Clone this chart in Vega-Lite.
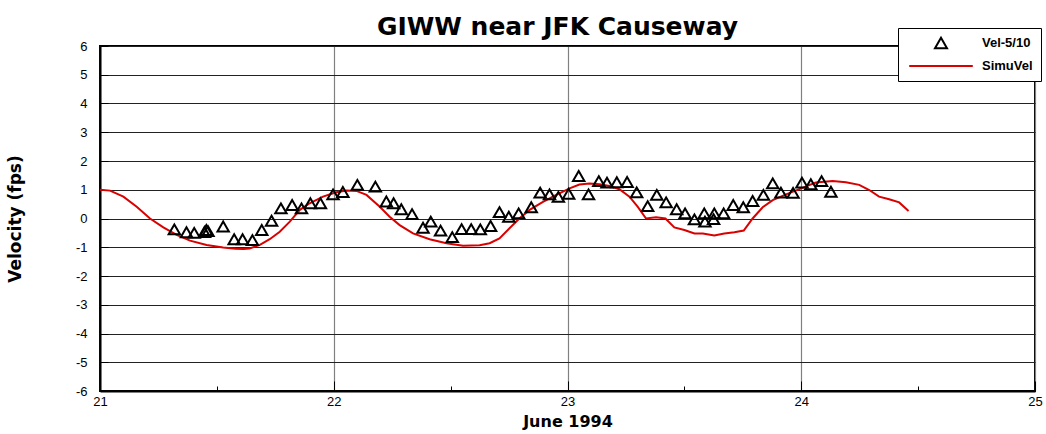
{
  "$schema": "https://vega.github.io/schema/vega-lite/v6.json",
  "width": 935,
  "height": 345,
  "autosize": "none",
  "padding": {"left": 100, "top": 46, "right": 11, "bottom": 43},
  "background": "white",
  "title": {"text": "GIWW near JFK Causeway", "fontSize": 25, "fontWeight": "bold", "font": "DejaVu Sans", "anchor": "middle", "dx": -10, "offset": -32, "baseline": "alphabetic", "color": "black"},
  "config": {
    "font": "Liberation Sans",
    "view": {"stroke": "black", "strokeWidth": 2},
    "axis": {"labelFont": "Liberation Sans", "labelFontSize": 13, "labelColor": "black", "titleFont": "DejaVu Sans", "titleFontSize": 16, "titleFontWeight": "bold", "titleColor": "black", "domainColor": "black", "domainWidth": 2, "tickColor": "black", "labelFlush": false}
  },
  "data": {"values": [
    {"t": 21.318, "v": -0.38, "series": "Vel-5/10"},
    {"t": 21.370, "v": -0.48, "series": "Vel-5/10"},
    {"t": 21.403, "v": -0.50, "series": "Vel-5/10"},
    {"t": 21.447, "v": -0.47, "series": "Vel-5/10"},
    {"t": 21.455, "v": -0.40, "series": "Vel-5/10"},
    {"t": 21.462, "v": -0.44, "series": "Vel-5/10"},
    {"t": 21.527, "v": -0.28, "series": "Vel-5/10"},
    {"t": 21.574, "v": -0.72, "series": "Vel-5/10"},
    {"t": 21.610, "v": -0.72, "series": "Vel-5/10"},
    {"t": 21.652, "v": -0.75, "series": "Vel-5/10"},
    {"t": 21.692, "v": -0.40, "series": "Vel-5/10"},
    {"t": 21.734, "v": -0.08, "series": "Vel-5/10"},
    {"t": 21.774, "v": 0.35, "series": "Vel-5/10"},
    {"t": 21.822, "v": 0.47, "series": "Vel-5/10"},
    {"t": 21.862, "v": 0.35, "series": "Vel-5/10"},
    {"t": 21.900, "v": 0.53, "series": "Vel-5/10"},
    {"t": 21.943, "v": 0.53, "series": "Vel-5/10"},
    {"t": 21.997, "v": 0.84, "series": "Vel-5/10"},
    {"t": 22.039, "v": 0.92, "series": "Vel-5/10"},
    {"t": 22.101, "v": 1.17, "series": "Vel-5/10"},
    {"t": 22.178, "v": 1.11, "series": "Vel-5/10"},
    {"t": 22.225, "v": 0.59, "series": "Vel-5/10"},
    {"t": 22.256, "v": 0.53, "series": "Vel-5/10"},
    {"t": 22.289, "v": 0.32, "series": "Vel-5/10"},
    {"t": 22.335, "v": 0.15, "series": "Vel-5/10"},
    {"t": 22.382, "v": -0.32, "series": "Vel-5/10"},
    {"t": 22.415, "v": -0.11, "series": "Vel-5/10"},
    {"t": 22.457, "v": -0.42, "series": "Vel-5/10"},
    {"t": 22.507, "v": -0.65, "series": "Vel-5/10"},
    {"t": 22.547, "v": -0.37, "series": "Vel-5/10"},
    {"t": 22.588, "v": -0.37, "series": "Vel-5/10"},
    {"t": 22.627, "v": -0.38, "series": "Vel-5/10"},
    {"t": 22.671, "v": -0.26, "series": "Vel-5/10"},
    {"t": 22.709, "v": 0.22, "series": "Vel-5/10"},
    {"t": 22.749, "v": 0.06, "series": "Vel-5/10"},
    {"t": 22.791, "v": 0.18, "series": "Vel-5/10"},
    {"t": 22.845, "v": 0.39, "series": "Vel-5/10"},
    {"t": 22.883, "v": 0.90, "series": "Vel-5/10"},
    {"t": 22.923, "v": 0.84, "series": "Vel-5/10"},
    {"t": 22.961, "v": 0.75, "series": "Vel-5/10"},
    {"t": 23.005, "v": 0.86, "series": "Vel-5/10"},
    {"t": 23.048, "v": 1.48, "series": "Vel-5/10"},
    {"t": 23.090, "v": 0.84, "series": "Vel-5/10"},
    {"t": 23.134, "v": 1.30, "series": "Vel-5/10"},
    {"t": 23.169, "v": 1.25, "series": "Vel-5/10"},
    {"t": 23.211, "v": 1.26, "series": "Vel-5/10"},
    {"t": 23.255, "v": 1.27, "series": "Vel-5/10"},
    {"t": 23.296, "v": 0.91, "series": "Vel-5/10"},
    {"t": 23.343, "v": 0.43, "series": "Vel-5/10"},
    {"t": 23.382, "v": 0.82, "series": "Vel-5/10"},
    {"t": 23.422, "v": 0.56, "series": "Vel-5/10"},
    {"t": 23.467, "v": 0.32, "series": "Vel-5/10"},
    {"t": 23.503, "v": 0.18, "series": "Vel-5/10"},
    {"t": 23.543, "v": -0.03, "series": "Vel-5/10"},
    {"t": 23.585, "v": 0.18, "series": "Vel-5/10"},
    {"t": 23.588, "v": -0.11, "series": "Vel-5/10"},
    {"t": 23.625, "v": -0.02, "series": "Vel-5/10"},
    {"t": 23.628, "v": 0.18, "series": "Vel-5/10"},
    {"t": 23.668, "v": 0.18, "series": "Vel-5/10"},
    {"t": 23.709, "v": 0.47, "series": "Vel-5/10"},
    {"t": 23.752, "v": 0.39, "series": "Vel-5/10"},
    {"t": 23.792, "v": 0.61, "series": "Vel-5/10"},
    {"t": 23.838, "v": 0.82, "series": "Vel-5/10"},
    {"t": 23.878, "v": 1.22, "series": "Vel-5/10"},
    {"t": 23.913, "v": 0.90, "series": "Vel-5/10"},
    {"t": 23.965, "v": 0.89, "series": "Vel-5/10"},
    {"t": 24.003, "v": 1.25, "series": "Vel-5/10"},
    {"t": 24.041, "v": 1.19, "series": "Vel-5/10"},
    {"t": 24.087, "v": 1.30, "series": "Vel-5/10"},
    {"t": 24.127, "v": 0.93, "series": "Vel-5/10"},
    {"t": 21.000, "v": 1.00, "series": "SimuVel"},
    {"t": 21.043, "v": 0.97, "series": "SimuVel"},
    {"t": 21.100, "v": 0.76, "series": "SimuVel"},
    {"t": 21.157, "v": 0.41, "series": "SimuVel"},
    {"t": 21.214, "v": 0.00, "series": "SimuVel"},
    {"t": 21.271, "v": -0.31, "series": "SimuVel"},
    {"t": 21.328, "v": -0.57, "series": "SimuVel"},
    {"t": 21.385, "v": -0.77, "series": "SimuVel"},
    {"t": 21.456, "v": -0.92, "series": "SimuVel"},
    {"t": 21.527, "v": -1.01, "series": "SimuVel"},
    {"t": 21.580, "v": -1.05, "series": "SimuVel"},
    {"t": 21.613, "v": -1.06, "series": "SimuVel"},
    {"t": 21.640, "v": -1.04, "series": "SimuVel"},
    {"t": 21.684, "v": -0.92, "series": "SimuVel"},
    {"t": 21.726, "v": -0.72, "series": "SimuVel"},
    {"t": 21.769, "v": -0.46, "series": "SimuVel"},
    {"t": 21.812, "v": -0.11, "series": "SimuVel"},
    {"t": 21.855, "v": 0.30, "series": "SimuVel"},
    {"t": 21.897, "v": 0.53, "series": "SimuVel"},
    {"t": 21.954, "v": 0.76, "series": "SimuVel"},
    {"t": 22.011, "v": 0.91, "series": "SimuVel"},
    {"t": 22.055, "v": 0.97, "series": "SimuVel"},
    {"t": 22.097, "v": 0.96, "series": "SimuVel"},
    {"t": 22.140, "v": 0.82, "series": "SimuVel"},
    {"t": 22.197, "v": 0.41, "series": "SimuVel"},
    {"t": 22.239, "v": 0.06, "series": "SimuVel"},
    {"t": 22.282, "v": -0.23, "series": "SimuVel"},
    {"t": 22.339, "v": -0.52, "series": "SimuVel"},
    {"t": 22.410, "v": -0.72, "series": "SimuVel"},
    {"t": 22.482, "v": -0.86, "series": "SimuVel"},
    {"t": 22.553, "v": -0.95, "series": "SimuVel"},
    {"t": 22.624, "v": -0.93, "series": "SimuVel"},
    {"t": 22.667, "v": -0.86, "series": "SimuVel"},
    {"t": 22.709, "v": -0.69, "series": "SimuVel"},
    {"t": 22.752, "v": -0.34, "series": "SimuVel"},
    {"t": 22.795, "v": 0.01, "series": "SimuVel"},
    {"t": 22.838, "v": 0.30, "series": "SimuVel"},
    {"t": 22.895, "v": 0.58, "series": "SimuVel"},
    {"t": 22.952, "v": 0.82, "series": "SimuVel"},
    {"t": 23.009, "v": 1.05, "series": "SimuVel"},
    {"t": 23.051, "v": 1.18, "series": "SimuVel"},
    {"t": 23.094, "v": 1.22, "series": "SimuVel"},
    {"t": 23.137, "v": 1.19, "series": "SimuVel"},
    {"t": 23.179, "v": 1.13, "series": "SimuVel"},
    {"t": 23.222, "v": 1.02, "series": "SimuVel"},
    {"t": 23.265, "v": 0.76, "series": "SimuVel"},
    {"t": 23.300, "v": 0.41, "series": "SimuVel"},
    {"t": 23.336, "v": 0.00, "series": "SimuVel"},
    {"t": 23.379, "v": 0.04, "series": "SimuVel"},
    {"t": 23.419, "v": 0.00, "series": "SimuVel"},
    {"t": 23.457, "v": -0.31, "series": "SimuVel"},
    {"t": 23.500, "v": -0.40, "series": "SimuVel"},
    {"t": 23.543, "v": -0.52, "series": "SimuVel"},
    {"t": 23.579, "v": -0.52, "series": "SimuVel"},
    {"t": 23.628, "v": -0.59, "series": "SimuVel"},
    {"t": 23.671, "v": -0.52, "series": "SimuVel"},
    {"t": 23.714, "v": -0.48, "series": "SimuVel"},
    {"t": 23.754, "v": -0.42, "series": "SimuVel"},
    {"t": 23.792, "v": 0.00, "series": "SimuVel"},
    {"t": 23.835, "v": 0.39, "series": "SimuVel"},
    {"t": 23.878, "v": 0.64, "series": "SimuVel"},
    {"t": 23.935, "v": 0.84, "series": "SimuVel"},
    {"t": 23.992, "v": 1.02, "series": "SimuVel"},
    {"t": 24.034, "v": 1.16, "series": "SimuVel"},
    {"t": 24.063, "v": 1.25, "series": "SimuVel"},
    {"t": 24.134, "v": 1.30, "series": "SimuVel"},
    {"t": 24.191, "v": 1.26, "series": "SimuVel"},
    {"t": 24.248, "v": 1.17, "series": "SimuVel"},
    {"t": 24.291, "v": 0.99, "series": "SimuVel"},
    {"t": 24.333, "v": 0.76, "series": "SimuVel"},
    {"t": 24.376, "v": 0.67, "series": "SimuVel"},
    {"t": 24.419, "v": 0.56, "series": "SimuVel"},
    {"t": 24.459, "v": 0.26, "series": "SimuVel"}
  ]},
  "encoding": {
    "x": {"field": "t", "type": "quantitative", "title": "June 1994",
      "scale": {"domain": [21, 25], "nice": false, "zero": false},
      "axis": {"values": [21, 21.5, 22, 22.5, 23, 23.5, 24, 24.5, 25], "labelExpr": "datum.value % 1 === 0 ? '' + datum.value : ''",
        "tickSize": {"condition": {"test": "datum.value % 1 === 0", "value": -10}, "value": -5},
        "gridOpacity": {"condition": {"test": "datum.value % 1 === 0", "value": 1}, "value": 0},
        "labelPadding": 14, "titlePadding": 5, "gridColor": "#808080", "gridWidth": 1.2}},
    "y": {"field": "v", "type": "quantitative", "title": "Velocity (fps)",
      "scale": {"domain": [-6, 6], "nice": false, "zero": false},
      "axis": {"values": [-6, -5, -4, -3, -2, -1, 0, 1, 2, 3, 4, 5, 6], "labelExpr": "'' + datum.value", "tickSize": -8, "labelPadding": 21, "titlePadding": 51, "titleFontSize": 17, "gridColor": "#222222", "gridWidth": 1}},
    "color": {"field": "series", "type": "nominal",
      "scale": {"domain": ["Vel-5/10", "SimuVel"], "range": ["black", "#d90000"]},
      "legend": {"orient": "none", "legendX": 798, "legendY": -18, "title": null, "strokeColor": "black", "fillColor": "white", "padding": 8, "rowPadding": 6, "symbolSize": 144, "symbolOffset": 28, "labelOffset": 34, "symbolStrokeWidth": 2, "symbolType": "triangle-up", "labelFont": "Liberation Sans", "labelFontSize": 13, "labelFontWeight": "bold", "labelColor": "black",
        "encode": {"symbols": {"update": {"shape": {"signal": "datum.value === 'SimuVel' ? 'M-5.3,0H5.3' : 'triangle-up'"}, "fill": {"value": "transparent"}}}}}
    }
  },
  "layer": [
    {"transform": [{"filter": "datum.series === 'SimuVel'"}],
     "mark": {"type": "line", "strokeWidth": 2}},
    {"transform": [{"filter": "datum.series === 'Vel-5/10'"}],
     "mark": {"type": "point", "shape": "triangle-up", "filled": false, "size": 130, "strokeWidth": 2, "opacity": 1}}
  ]
}
